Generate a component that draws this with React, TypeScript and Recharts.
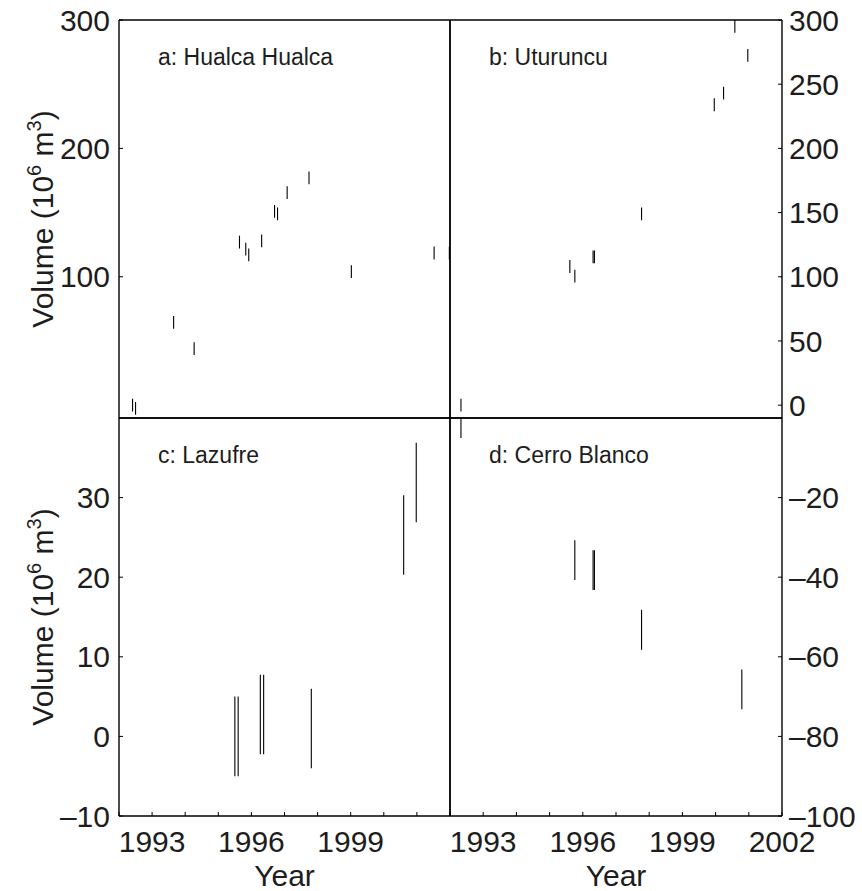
import { ComposedChart, Line, XAxis, YAxis } from 'recharts';

/* ---------- volume change series, one pair of arrays per volcano ---------- */
const hualcaYears = [
  1992.41, 1992.5, 1993.65, 1994.27, 1995.64, 1995.83, 1995.92, 1996.31,
  1996.7, 1996.79, 1997.08, 1997.74, 1999.02, 2001.52, 2001.98,
];
const hualcaVolumes = [
  0, -2.5, 64.5, 44, 127, 121.5, 117, 128, 151, 149, 165.5, 177, 104, 118.5, 118.5,
];

const uturuncuYears = [
  1992.33, 1995.61, 1995.76, 1996.31, 1996.35, 1997.77, 1999.96, 2000.24, 2000.58, 2000.97,
];
const uturuncuVolumes = [0, 108, 100.5, 115.5, 115.5, 149, 234, 243, 295, 272.5];

const lazufreYears = [1995.5, 1995.6, 1996.27, 1996.37, 1997.81, 2000.6, 2000.98];
const lazufreVolumes = [0, 0, 2.75, 2.75, 1, 25.3, 31.9];

const cerroBlancoYears = [1992.33, 1995.76, 1996.31, 1996.35, 1997.77, 2000.79];
const cerroBlancoVolumes = [0, -35.7, -38.2, -38.2, -53.2, -68.2];

// every estimate carries the same +/- uncertainty (10^6 m^3)
const volumeError = 5;

/* ---------- ticks ---------- */
const yearTicks = [1992, 1993, 1994, 1995, 1996, 1997, 1998, 1999, 2000, 2001, 2002];
const leftYearLabels = [1993, 1996, 1999];
const rightYearLabels = [1993, 1996, 1999, 2002];

const hualcaTicks = [100, 200, 300];
const uturuncuTicks = [0, 50, 100, 150, 200, 250, 300];
const lazufreTicks = [-10, 0, 10, 20, 30];
const cerroBlancoTicks = [-100, -80, -60, -40, -20];

const W = 862;
const H = 891;
const COLS = [119, 450, 782];
const ROWS = [20, 418, 816];
const AXIS_W = 60;
const TOP_H = 10;
const BOTTOM_H = 40;
const ink = '#1d1d1d';
const font = '"Liberation Sans", Arial, Helvetica, sans-serif';

const frame = { stroke: '#000', strokeWidth: 1.4 };
const tickMark = { stroke: '#000', strokeWidth: 1 };
const bigText = { fill: ink, fontSize: 30, fontFamily: font };

const fmt = (v: number) => (v < 0 ? `\u2013${Math.abs(v)}` : String(v));

// year labels sit at a fixed baseline under the frame
const YearTick = ({ x, payload, labels, baseline }: any) => (
  <text x={x} y={baseline} textAnchor="middle" {...bigText}>
    {labels.includes(payload.value) ? String(payload.value) : ''}
  </text>
);

const VolumeLabel = ({ viewBox }: any) => {
  const cx = viewBox.x - 6;
  const cy = viewBox.y + viewBox.height / 2;
  return (
    <text
      transform={`translate(${cx},${cy}) rotate(-90)`}
      textAnchor="middle"
      fontSize={30}
      fontFamily={font}
      fill={ink}
    >
      Volume (10
      <tspan dy={-12} fontSize={20}>6</tspan>
      <tspan dy={12}> m</tspan>
      <tspan dy={-12} fontSize={20}>3</tspan>
      <tspan dy={12}>)</tspan>
    </text>
  );
};

type PanelProps = {
  id: string;
  title: string;
  years: number[];
  volumes: number[];
  domain: [number, number];
  yTicks: number[];
  col: 0 | 1;
  row: 0 | 1;
};

const Panel = ({ id, title, years, volumes, domain, yTicks, col, row }: PanelProps) => {
  // each estimate becomes a two-point vertical segment: value -/+ error
  const segments = years.map((year, i) => [
    { year, volume: volumes[i] - volumeError },
    { year, volume: volumes[i] + volumeError },
  ]);
  const left = COLS[col];
  const right = COLS[col + 1];
  const top = ROWS[row];
  const bottom = ROWS[row + 1];
  const margin = {
    left: left - AXIS_W,
    right: W - right - AXIS_W,
    top: top - TOP_H,
    bottom: H - bottom - BOTTOM_H,
  };
  const yearLabels = col === 0 ? leftYearLabels : rightYearLabels;
  const isBottom = row === 1;

  return (
    <div style={{ position: 'absolute', left: 0, top: 0 }}>
      {/* keep segments that run past the domain inside their own frame */}
      <style>{`.seg-${id} .recharts-curve { clip-path: url(#frame-${id}); }`}</style>
      <svg width={0} height={0} style={{ position: 'absolute' }}>
        <defs>
          <clipPath id={`frame-${id}`} clipPathUnits="userSpaceOnUse">
            <rect x={left} y={top} width={right - left} height={bottom - top} />
          </clipPath>
        </defs>
      </svg>
      <ComposedChart width={W} height={H} margin={margin}>
        <XAxis
          xAxisId="b"
          dataKey="year"
          type="number"
          orientation="bottom"
          domain={[1992, 2002]}
          ticks={yearTicks}
          interval={0}
          allowDataOverflow
          height={BOTTOM_H}
          tickSize={-4}
          axisLine={frame}
          tickLine={tickMark}
          tick={
            isBottom
              ? (p: any) => <YearTick {...p} labels={yearLabels} baseline={bottom + 36} />
              : false
          }
          label={
            isBottom
              ? { value: 'Year', position: 'bottom', offset: 9, ...bigText }
              : undefined
          }
        />
        <XAxis
          xAxisId="t"
          type="number"
          orientation="top"
          domain={[1992, 2002]}
          ticks={yearTicks}
          interval={0}
          allowDataOverflow
          height={TOP_H}
          tickSize={-4}
          axisLine={frame}
          tickLine={tickMark}
          tick={false}
        />
        <YAxis
          yAxisId="l"
          dataKey="volume"
          type="number"
          orientation="left"
          domain={domain}
          ticks={yTicks}
          interval={0}
          allowDataOverflow
          width={AXIS_W}
          tickSize={-4}
          tickMargin={13}
          axisLine={frame}
          tickLine={tickMark}
          tick={col === 0 ? bigText : false}
          tickFormatter={fmt}
          label={col === 0 ? <VolumeLabel /> : undefined}
        />
        <YAxis
          yAxisId="r"
          type="number"
          orientation="right"
          domain={domain}
          ticks={yTicks}
          interval={0}
          allowDataOverflow
          width={AXIS_W}
          tickSize={-4}
          tickMargin={11}
          axisLine={frame}
          tickLine={tickMark}
          tick={col === 1 ? bigText : false}
          tickFormatter={fmt}
        />
        {segments.map((seg, i) => (
          <Line
            key={i}
            className={`seg-${id}`}
            data={seg}
            xAxisId="b"
            yAxisId="l"
            dataKey="volume"
            type="linear"
            stroke="#000"
            strokeWidth={1.1}
            dot={false}
            activeDot={false}
            isAnimationActive={false}
          />
        ))}
      </ComposedChart>
      <div
        style={{
          position: 'absolute',
          left: left + 39,
          top: top + 26,
          fontSize: 23,
          lineHeight: '23px',
          fontFamily: font,
          color: ink,
          whiteSpace: 'nowrap',
        }}
      >
        {title}
      </div>
    </div>
  );
};

export default function App() {
  return (
    <div
      style={{
        position: 'absolute',
        left: 0,
        top: 0,
        width: W,
        height: H,
        background: '#fff',
        fontFamily: font,
      }}
    >
      <Panel
        id="a"
        title="a: Hualca Hualca"
        years={hualcaYears}
        volumes={hualcaVolumes}
        domain={[-10, 300]}
        yTicks={hualcaTicks}
        col={0}
        row={0}
      />
      <Panel
        id="b"
        title="b: Uturuncu"
        years={uturuncuYears}
        volumes={uturuncuVolumes}
        domain={[-10, 300]}
        yTicks={uturuncuTicks}
        col={1}
        row={0}
      />
      <Panel
        id="c"
        title="c: Lazufre"
        years={lazufreYears}
        volumes={lazufreVolumes}
        domain={[-10, 40]}
        yTicks={lazufreTicks}
        col={0}
        row={1}
      />
      <Panel
        id="d"
        title="d: Cerro Blanco"
        years={cerroBlancoYears}
        volumes={cerroBlancoVolumes}
        domain={[-100, 0]}
        yTicks={cerroBlancoTicks}
        col={1}
        row={1}
      />
    </div>
  );
}
